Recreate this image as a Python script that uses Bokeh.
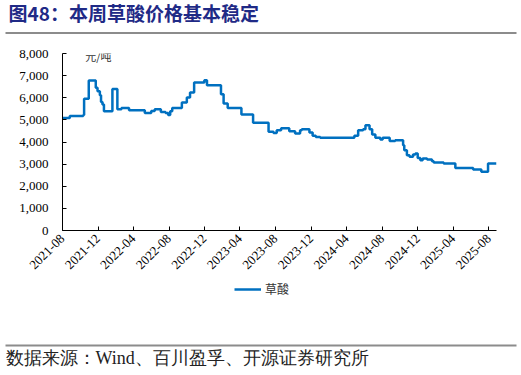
import math
import pandas as pd
from bokeh.plotting import figure
from bokeh.layouts import column
from bokeh.models import (Range1d, FixedTicker, NumeralTickFormatter, DatetimeTickFormatter,
                          Legend, LegendItem, Label)
from bokeh.core.properties import value
from bokeh.embed import file_html
from bokeh.resources import INLINE

# ---------------- data ----------------
title_text = "图48：本周草酸价格基本稳定"
source_text = "数据来源：Wind、百川盈孚、开源证券研究所"
unit_text = "元/吨"
series_name = "草酸"

dates = ["2021-08-01", "2021-08-26", "2021-10-11", "2021-10-14", "2021-10-30", "2021-11-23",
         "2021-11-29", "2021-12-07", "2021-12-11", "2021-12-16", "2021-12-21", "2022-01-19",
         "2022-02-05", "2022-02-19", "2022-03-17", "2022-05-10", "2022-06-01", "2022-06-13",
         "2022-07-04", "2022-07-20", "2022-07-29", "2022-08-05", "2022-08-12", "2022-09-14",
         "2022-10-01", "2022-10-12", "2022-10-26", "2022-11-30", "2022-12-09", "2023-01-26",
         "2023-02-04", "2023-02-18", "2023-04-06", "2023-05-16", "2023-07-08", "2023-07-25",
         "2023-08-05", "2023-08-20", "2023-09-17", "2023-10-07", "2023-10-24", "2023-10-30",
         "2023-11-25", "2023-12-06", "2023-12-17", "2024-01-01", "2024-04-27", "2024-05-10",
         "2024-05-27", "2024-06-04", "2024-06-18", "2024-06-27", "2024-07-08", "2024-07-25",
         "2024-08-02", "2024-08-26", "2024-09-14", "2024-10-11", "2024-10-15", "2024-10-24",
         "2024-11-02", "2024-11-14", "2024-11-22", "2024-11-30", "2024-12-09", "2024-12-17",
         "2025-01-01", "2025-01-18", "2025-01-24", "2025-02-27", "2025-04-08", "2025-06-08",
         "2025-07-06", "2025-07-29", "2025-08-27"]
prices = [5080, 5180, 5220, 5950, 6780, 6450, 6290, 6110, 5810, 5690, 5390, 6400,
          5480, 5540, 5440, 5310, 5400, 5480, 5360, 5310, 5220, 5390, 5540, 5780,
          6010, 6240, 6690, 6790, 6560, 6160, 5740, 5540, 5240, 4870, 4460, 4410,
          4530, 4620, 4490, 4380, 4530, 4580, 4430, 4280, 4230, 4190, 4280, 4530,
          4580, 4760, 4580, 4340, 4190, 4110, 4190, 4040, 4080, 3850, 3630, 3400,
          3330, 3430, 3480, 3280, 3180, 3250, 3210, 3130, 3070, 3030, 2830, 2760,
          2650, 3030, 3030]

tick_months = ["2021-08", "2021-12", "2022-04", "2022-08", "2022-12", "2023-04", "2023-08",
               "2023-12", "2024-04", "2024-08", "2024-12", "2025-04", "2025-08"]
y_ticks = [0, 1000, 2000, 3000, 4000, 5000, 6000, 7000, 8000]

# ---------------- styles ----------------
W = 521
H_HDR, H_MAIN, H_FTR = 40, 240, 95
SERIF = "Liberation Serif"
CJK = "Noto Sans CJK SC"
LINE_COLOR = "#0070C0"
RULE_COLOR = "#8C8C8C"

x = pd.to_datetime(dates)
tick_ms = [pd.Timestamp(m + "-01").value // 10**6 for m in tick_months]


def blank(h):
    f = figure(width=W, height=h, x_range=Range1d(0, W), y_range=Range1d(0, h),
               toolbar_location=None, output_backend="svg",
               x_axis_location=None, y_axis_location=None,
               min_border=0, min_border_left=0, min_border_right=0,
               min_border_top=0, min_border_bottom=0)
    f.grid.visible = False
    f.outline_line_color = None
    return f


# ---- header: title + rule ----
hdr = blank(H_HDR)
hdr.text(x=[8], y=[H_HDR - 11.5], text=[title_text], text_font=value(CJK),
         text_font_style="bold", text_font_size="19px", text_color="#1F2A86",
         text_baseline="middle", text_align="left")
hdr.line(x=[5, 516], y=[H_HDR - 32.5, H_HDR - 32.5], line_color=RULE_COLOR, line_width=2)

# ---- main chart ----
p = figure(width=W, height=H_MAIN, x_axis_type="datetime",
           x_range=Range1d(pd.Timestamp("2021-08-01"), pd.Timestamp("2025-08-27")),
           y_range=Range1d(0, 8000),
           toolbar_location=None, output_backend="svg",
           min_border_left=62, min_border_right=25, min_border_top=13, min_border_bottom=50)
p.grid.visible = False
p.outline_line_color = None

p.step(x, prices, mode="after", line_color=LINE_COLOR, line_width=2.5)

p.yaxis.ticker = FixedTicker(ticks=y_ticks)
p.yaxis.formatter = NumeralTickFormatter(format="0,0")
p.xaxis.ticker = FixedTicker(ticks=tick_ms)
p.xaxis.formatter = DatetimeTickFormatter(months="%Y-%m", days="%Y-%m", years="%Y-%m")
p.xaxis.major_label_orientation = math.pi / 4
for ax in (p.xaxis[0], p.yaxis[0]):
    ax.axis_line_color = "black"
    ax.major_tick_line_color = "black"
    ax.major_tick_in = 4
    ax.major_tick_out = 0
    ax.minor_tick_line_color = None
    ax.major_label_text_font = SERIF
    ax.major_label_text_font_size = "13px"
    ax.major_label_text_color = "black"
p.yaxis.major_label_standoff = 14
p.xaxis.major_label_standoff = 6

p.add_layout(Label(x=pd.Timestamp("2021-10-18"), y=7880, text=unit_text,
                   text_font=CJK, text_font_size="11px", text_color="#333333",
                   text_baseline="middle", text_align="left"))

# ---- footer: legend + rule + source ----
ftr = blank(H_FTR)
# legend sample renderer kept outside the visible range (only its legend swatch shows)
legend_line = ftr.line(x=[-60, -50], y=[-60, -60], line_color=LINE_COLOR, line_width=2.5)
legend = Legend(items=[LegendItem(label=series_name, renderers=[legend_line])],
                location=(234, H_FTR - 17), orientation="horizontal",
                border_line_color=None, background_fill_alpha=0,
                padding=0, margin=0, glyph_width=27, glyph_height=14,
                label_height=14, label_standoff=4,
                label_text_font=CJK, label_text_font_size="12px", label_text_color="#333333")
ftr.add_layout(legend, "center")
ftr.line(x=[5, 516], y=[H_FTR - 65, H_FTR - 65], line_color=RULE_COLOR, line_width=2)
ftr.text(x=[5], y=[H_FTR - 77], text=[source_text], text_font=value(SERIF),
         text_font_size="18px", text_color="#222222", text_baseline="middle", text_align="left")

# keep each figure's frame independent inside the column
for f in (hdr, p, ftr):
    try:
        f.frame_align = False
    except Exception:
        pass

layout = column(hdr, p, ftr, spacing=0)
open("out.html", "w").write(file_html(layout, INLINE))
